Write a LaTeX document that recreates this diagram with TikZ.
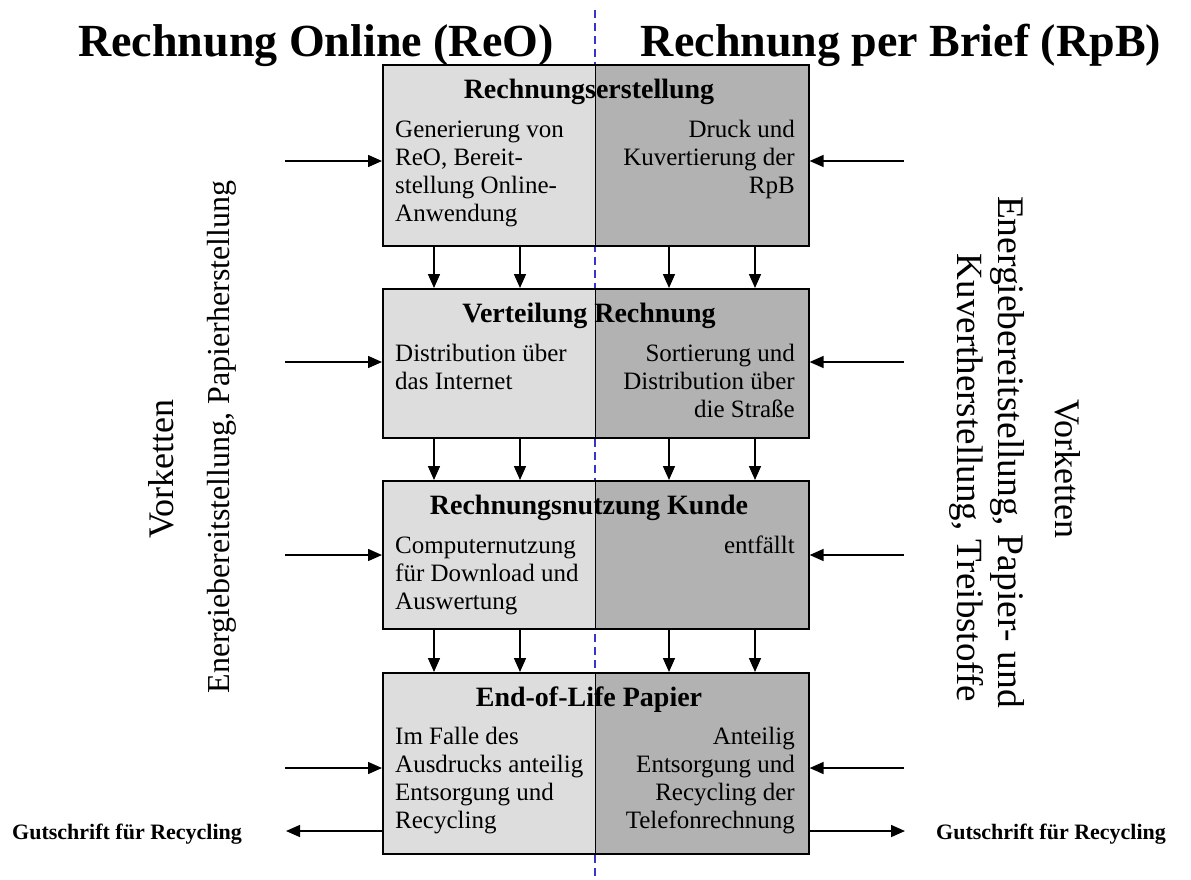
\documentclass[tikz,border=0pt]{standalone}
\usepackage{fontspec}
\setmainfont{Liberation Serif}
\usetikzlibrary{arrows.meta}
\definecolor{leftgray}{HTML}{DDDDDD}
\definecolor{rightgray}{HTML}{B2B2B2}
\definecolor{axisblue}{HTML}{3535CC}
\newcommand{\linesl}[1]{\begin{tabular}[t]{@{}l@{}}#1\end{tabular}}
\newcommand{\linesr}[1]{\begin{tabular}[t]{@{}r@{}}#1\end{tabular}}
\tikzset{
  stage/.style={draw=black, line width=1.6pt, fill=leftgray, anchor=north west,
    minimum width=426pt, inner sep=0pt,
    path picture={
      \fill[rightgray] (path picture bounding box.north) rectangle (path picture bounding box.south east);
      \draw[line width=1.2pt] (path picture bounding box.north) -- (path picture bounding box.south);
    }},
  head/.style={anchor=base, inner sep=0pt, font=\fontsize{28}{30}\selectfont\bfseries},
  bodyl/.style={anchor=base west, inner sep=0pt, font=\fontsize{25}{28.3}\selectfont},
  bodyr/.style={anchor=base east, inner sep=0pt, font=\fontsize{25}{28.3}\selectfont},
  arr/.style={line width=1.5pt, -{Triangle[length=14pt,width=12pt]}},
  title/.style={anchor=base, inner sep=0pt, font=\fontsize{46}{50}\selectfont\bfseries},
  sidel/.style={anchor=base, inner sep=0pt, rotate=90},
  sider/.style={anchor=base, inner sep=0pt, rotate=-90},
  credit/.style={anchor=base west, inner sep=0pt, font=\fontsize{22}{24}\selectfont\bfseries},
  axis/.style={draw=axisblue, line width=2pt, dash pattern=on 8pt off 5pt}
}
\begin{document}
\begin{tikzpicture}[x=1pt, y=-1pt]
\useasboundingbox (0,0) rectangle (1191,879);

% dividing axis between the two variants
\coordinate (dtop) at (595,10);
\coordinate (dbot) at (595,879);
\draw[axis] (dtop) -- (dbot);

% titles
\node[title] (tl) at (316,56) {Rechnung Online (ReO)};
\node[title] (tr) at (901,56) {Rechnung per Brief (RpB)};

% process stages
\node[stage, minimum height=181pt] (b1) at (382,64) {};
\node[stage, minimum height=149pt] (b2) at (382,288) {};
\node[stage, minimum height=148pt] (b3) at (382,480) {};
\node[stage, minimum height=181pt] (b4) at (382,672) {};

% stage texts
\node[head] (h1) at (589,98) {Rechnungserstellung};
\node[bodyl] (t1l) at (395,137) {\linesl{Generierung von\\ReO, Bereit-\\stellung Online-\\Anwendung}};
\node[bodyr] (t1r) at (795,137) {\linesr{Druck und\\Kuvertierung der\\RpB}};

\node[head] (h2) at (589,322) {Verteilung Rechnung};
\node[bodyl] (t2l) at (395,361) {\linesl{Distribution über\\das Internet}};
\node[bodyr] (t2r) at (795,361) {\linesr{Sortierung und\\Distribution über\\die Straße}};

\node[head] (h3) at (589,514) {Rechnungsnutzung Kunde};
\node[bodyl] (t3l) at (395,553) {\linesl{Computernutzung\\für Download und\\Auswertung}};
\node[bodyr] (t3r) at (795,553) {entfällt};

\node[head] (h4) at (589,706) {End-of-Life Papier};
\node[bodyl] (t4l) at (395,744) {\linesl{Im Falle des\\Ausdrucks anteilig\\Entsorgung und\\Recycling}};
\node[bodyr] (t4r) at (795,744) {\linesr{Anteilig\\Entsorgung und\\Recycling der\\Telefonrechnung}};

% flows between stages
\coordinate (v1) at (434,0);
\coordinate (v2) at (520,0);
\coordinate (v3) at (669,0);
\coordinate (v4) at (755,0);
\foreach \a/\b in {b1/b2,b2/b3,b3/b4}
  \foreach \c in {v1,v2,v3,v4}
    \draw[arr] (\a.south -| \c) -- (\b.north -| \c);

% upstream inputs
\coordinate (L1) at (285,161);
\coordinate (L2) at (285,362);
\coordinate (L3) at (285,555);
\coordinate (L4) at (285,768);
\coordinate (R1) at (904,161);
\coordinate (R2) at (904,362);
\coordinate (R3) at (904,555);
\coordinate (R4) at (904,768);
\draw[arr] (L1) -- (L1 -| b1.west);
\draw[arr] (L2) -- (L2 -| b2.west);
\draw[arr] (L3) -- (L3 -| b3.west);
\draw[arr] (L4) -- (L4 -| b4.west);
\draw[arr] (R1) -- (R1 -| b1.east);
\draw[arr] (R2) -- (R2 -| b2.east);
\draw[arr] (R3) -- (R3 -| b3.east);
\draw[arr] (R4) -- (R4 -| b4.east);

% recycling credits
\coordinate (OL) at (286,831);
\coordinate (OR) at (905,831);
\draw[arr] (OL -| b4.west) -- (OL);
\draw[arr] (OR -| b4.east) -- (OR);
\node[credit] (gl) at (12,839) {Gutschrift für Recycling};
\node[credit] (gr) at (936,839) {Gutschrift für Recycling};

% upstream chains
\node[sidel, font=\fontsize{36}{38}\selectfont] (vl1) at (173,469) {Vorketten};
\node[sidel, font=\fontsize{32}{34}\selectfont] (vl2) at (229,437) {Energiebereitstellung, Papierherstellung};
\node[sider, font=\fontsize{36}{38}\selectfont] (vr1) at (1055,469) {Vorketten};
\node[sider, font=\fontsize{37.5}{40}\selectfont] (vr2) at (998,452) {Energiebereitstellung, Papier- und};
\node[sider, font=\fontsize{37}{40}\selectfont] (vr3) at (957,478) {Kuvertherstellung, Treibstoffe};
\end{tikzpicture}
\end{document}
